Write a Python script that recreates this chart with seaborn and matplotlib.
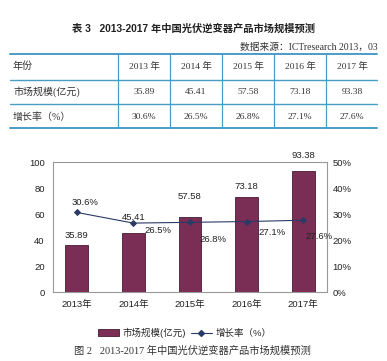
import matplotlib
matplotlib.use('Agg')
import matplotlib.pyplot as plt
import seaborn as sns
import pandas as pd
from matplotlib.lines import Line2D
from matplotlib.patches import Patch

# data
years = ['2013年', '2014年', '2015年', '2016年', '2017年']
table_years = ['2013 年', '2014 年', '2015 年', '2016 年', '2017 年']
market = [35.89, 45.41, 57.58, 73.18, 93.38]
growth = [30.6, 26.5, 26.8, 27.1, 27.6]

sns.set_style('white')
plt.rcParams['font.family'] = ['Liberation Sans', 'Noto Sans CJK SC']
SERIF = ['Liberation Serif', 'Noto Sans CJK SC']

bar_color = '#7a2d55'
line_color = '#2b3a67'
rule_color = '#4a9cc6'
txt = '#333333'

W, H = 387, 361
fig = plt.figure(figsize=(W / 100, H / 100), dpi=100)

# overlay axes in pixel coords for the table and captions
ov = fig.add_axes([0, 0, 1, 1])
ov.set_xlim(0, W)
ov.set_ylim(H, 0)
ov.axis('off')

ov.text(194, 29, '表 3   2013-2017 年中国光伏逆变器产品市场规模预测', ha='center', va='center',
        fontsize=7.4, fontweight='bold', color='#222222', family=['Liberation Sans', 'Noto Sans CJK SC'])
ov.text(378, 47, '数据来源：ICTresearch 2013，03', ha='right', va='center',
        fontsize=7, color=txt, family=SERIF)

# table rules
for y, lw in [(54, 1.4), (80, 1.0), (104, 1.0), (128, 1.4)]:
    ov.plot([10, 377], [y, y], color=rule_color, lw=lw)
for x in [118, 170, 222, 274, 326]:
    ov.plot([x, x], [54, 128], color=rule_color, lw=0.9)

col_x = [144, 196, 248, 300, 352]
row_y = [66, 92, 117]
ov.text(13, row_y[0], '年份', va='center', fontsize=7.2, color=txt, family=SERIF)
ov.text(13, row_y[1], '市场规模(亿元)', va='center', fontsize=7.2, color=txt, family=SERIF)
ov.text(13, row_y[2], '增长率（%）', va='center', fontsize=7.2, color=txt, family=SERIF)
for i in range(len(years)):
    ov.text(col_x[i], row_y[0], table_years[i], ha='center', va='center', fontsize=6.8, color=txt, family=SERIF)
    ov.text(col_x[i], row_y[1], f'{market[i]:.2f}', ha='center', va='center', fontsize=6.8, color=txt, family=SERIF)
    ov.text(col_x[i], row_y[2], f'{growth[i]:.1f}%', ha='center', va='center', fontsize=6.8, color=txt, family=SERIF)

# chart
df = pd.DataFrame({'year': years, 'market': market, 'growth': growth})
ax = fig.add_axes([53 / W, 1 - 292 / H, 274 / W, 130 / H])
sns.barplot(data=df, x='year', y='market', color=bar_color, width=0.4,
            edgecolor='#4a1a33', linewidth=0.6, saturation=1, ax=ax)
ax.set_ylim(0, 100)
ax.set_yticks(range(0, 101, 20))
ax.set_xlabel('')
ax.set_ylabel('')
ax.tick_params(axis='both', length=0, labelsize=6.8, colors='#222222', pad=6)
for s in ax.spines.values():
    s.set_color('#999999')
    s.set_linewidth(0.8)

ax2 = ax.twinx()
sns.lineplot(data=df, x='year', y='growth', color=line_color, marker='D', markersize=3,
             markeredgecolor=line_color, linewidth=0.8, sort=False, ax=ax2)
ax2.set_ylim(0, 50)
ax2.set_yticks(range(0, 51, 10))
ax2.set_yticklabels([f'{v}%' for v in range(0, 51, 10)])
ax2.set_ylabel('')
ax2.tick_params(axis='y', length=0, labelsize=6.8, colors='#222222', pad=4)
for s in ax2.spines.values():
    s.set_visible(False)

# value labels
bar_dy = [10, 15, 21, 10, 15]
for i, v in enumerate(market):
    ax.annotate(f'{v:.2f}', (i, v), xytext=(0, bar_dy[i]), textcoords='offset pixels',
                ha='center', va='center', fontsize=6.8, color='#222222')
line_off = [(8, 10), (25, -7), (23, -17), (25, -11), (16, -16)]
for i, g in enumerate(growth):
    ax2.annotate(f'{g:.1f}%', (i, g), xytext=line_off[i], textcoords='offset pixels',
                 ha='center', va='center', fontsize=6.8, color='#222222')

handles = [Patch(facecolor=bar_color, edgecolor='#4a1a33', linewidth=0.6),
           Line2D([], [], color=line_color, marker='D', markersize=3, linewidth=0.8)]
fig.legend(handles, ['市场规模(亿元)', '增长率（%）'], loc='center', bbox_to_anchor=(185 / W, 1 - 333 / H),
           ncol=2, frameon=False, fontsize=6.8, handlelength=2.2, handleheight=0.7,
           columnspacing=0.5, handletextpad=0.4)

ov.text(192, 351, '图 2   2013-2017 年中国光伏逆变器产品市场规模预测', ha='center', va='center',
        fontsize=7.4, color=txt, family=SERIF)

fig.savefig('out.png', dpi=100)
